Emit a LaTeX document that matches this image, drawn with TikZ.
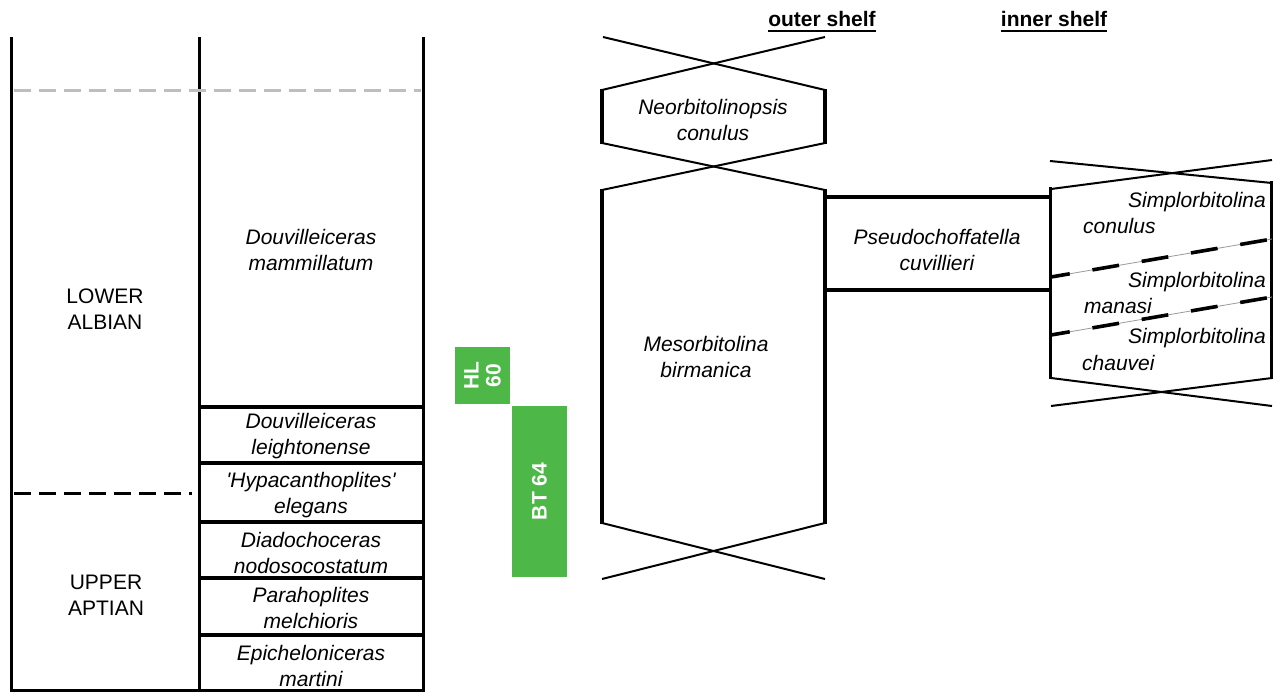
\documentclass[tikz,border=0pt]{standalone}
\usepackage{fontspec}
\setmainfont{Liberation Sans}
\usetikzlibrary{calc}
\definecolor{bargreen}{HTML}{4DB748}
\definecolor{dashgrey}{HTML}{BEBEBE}
\definecolor{thingrey}{HTML}{9A9A9A}
\begin{document}
\begin{tikzpicture}[x=1pt,y=-1pt,
  colline/.style={line width=3pt},
  boxline/.style={line width=3.6pt},
  sideline/.style={line width=3.8pt},
  diag/.style={line width=2pt},
  lbl/.style={font=\fontsize{21}{26}\selectfont, align=center, inner sep=0pt},
  spec/.style={font=\fontsize{21}{26}\selectfont\itshape, align=center, inner sep=0pt},
  hdr/.style={font=\fontsize{21}{26}\selectfont\bfseries, inner sep=0pt, anchor=base},
  zone/.style={rotate=90, fill=bargreen, text=white, inner sep=0pt, align=center,
    font=\fontsize{21}{22}\selectfont\bfseries},
  sdash/.style={line width=3.6pt, dash pattern=on 27pt off 23pt},
  sthin/.style={line width=0.8pt, thingrey}
]
\useasboundingbox (0,0) rectangle (1273,693);

% ---- left columns ----
\draw[colline] (11,37) -- (11,692);
\draw[colline] (199,37) -- (199,692);
\draw[colline] (423,37) -- (423,692);
\draw[colline] (11,690.5) -- (423,690.5);
\draw[line width=3pt, dashgrey, dash pattern=on 17pt off 8pt] (14,90) -- (421,90);
\draw[line width=3pt, dash pattern=on 17pt off 8pt] (14,493) -- (192,493);
\foreach \yy in {407,463,522,578,635}
  \draw[boxline] (199,\yy) -- (423,\yy);

\node[lbl] (lowalb) at (105,309) {LOWER\\ALBIAN};
\node[lbl] (uppapt) at (106,595) {UPPER\\APTIAN};
\node[spec] (dmam) at (311,250) {Douvilleiceras\\mammillatum};
\node[spec] (dlei) at (311,436) {Douvilleiceras\\leightonense};
\node[spec] (hele) at (311,495) {\textquotesingle Hypacanthoplites\textquotesingle\\elegans};
\node[spec] (dnod) at (311,553) {Diadochoceras\\nodosocostatum};
\node[spec] (pmel) at (311,608) {Parahoplites\\melchioris};
\node[spec] (emar) at (311,666) {Epicheloniceras\\martini};

% ---- green zones ----
\node[zone, minimum width=57pt, minimum height=55pt] (hl) at (482.5,375.5) {HL\\60};
\node[zone, minimum width=171pt, minimum height=55pt] (bt) at (539.5,491.5) {BT 64};

% ---- outer shelf ----
\node[hdr] (outer) at (822,27) {outer shelf};
\draw[line width=2pt] ([yshift=-4pt]outer.base west) -- ([yshift=-4pt]outer.base east);
\node[hdr] (inner) at (1054,27) {inner shelf};
\draw[line width=2pt] ([yshift=-4pt]inner.base west) -- ([yshift=-4pt]inner.base east);

% Neorbitolinopsis
\draw[diag] (603,37) -- (825,90);
\draw[diag] (825,37) -- (602,90);
\draw[sideline] (602,89) -- (602,144);
\draw[sideline] (825,89) -- (825,144);
\draw[diag] (602,143) -- (825,190);
\draw[diag] (825,143) -- (602,190);
\node[spec] (neo) at (713,120) {Neorbitolinopsis\\conulus};

% Mesorbitolina
\draw[sideline] (602,189) -- (602,524);
\draw[sideline] (825,189) -- (825,524);
\draw[diag] (602,523) -- (825,579);
\draw[diag] (825,523) -- (602,579);
\node[spec] (meso) at (706,357) {Mesorbitolina\\birmanica};

% Pseudochoffatella
\draw[boxline] (825,197) -- (1050,197);
\draw[boxline] (825,290) -- (1050,290);
\node[spec] (pseudo) at (937,250) {Pseudochoffatella\\cuvillieri};

% ---- inner shelf: Simplorbitolina ----
\draw[diag] (1050,161) -- (1272,183);
\draw[diag] (1272,160) -- (1051,189);
\draw[sideline] (1050.5,187) -- (1050.5,379);
\draw[line width=2.4pt] (1271.5,181) -- (1271.5,379);
\draw[diag] (1051,378) -- (1272,406);
\draw[diag] (1272,378) -- (1051,406);

\draw[sthin] (1051,277) -- (1272,239);
\draw[sdash, dash phase=8pt] (1051,277) -- (1272,239);
\draw[sthin] (1051,335) -- (1272,297);
\draw[sdash, dash phase=8pt] (1051,335) -- (1272,297);

\node[spec, anchor=base east] (sim1a) at (1266,207) {Simplorbitolina};
\node[spec, anchor=base west] (sim1b) at (1083,233) {conulus};
\node[spec, anchor=base east] (sim2a) at (1266,287) {Simplorbitolina};
\node[spec, anchor=base west] (sim2b) at (1084,313) {manasi};
\node[spec, anchor=base east] (sim3a) at (1266,343) {Simplorbitolina};
\node[spec, anchor=base west] (sim3b) at (1082,370) {chauvei};
\end{tikzpicture}
\end{document}
